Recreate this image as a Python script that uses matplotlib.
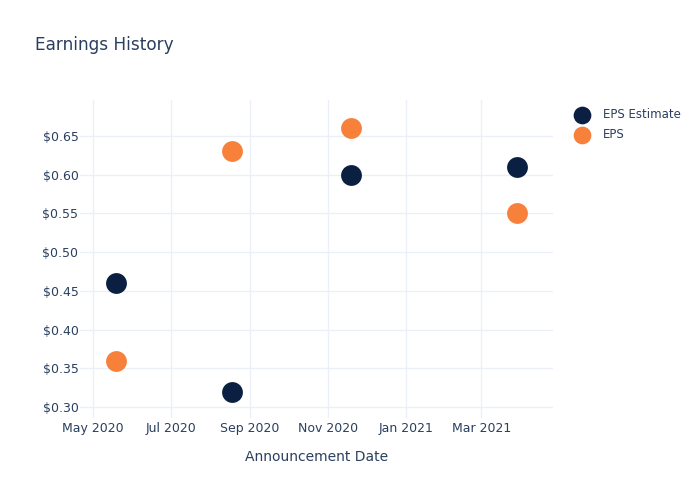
import numpy as np
import pandas as pd
import matplotlib
matplotlib.use("Agg")
import matplotlib.pyplot as plt
import matplotlib.dates as mdates
from matplotlib.ticker import FuncFormatter

dates = pd.to_datetime(["2020-05-19", "2020-08-18", "2020-11-19", "2021-03-29"])
eps_estimate = [0.46, 0.32, 0.60, 0.61]
eps_actual = [0.36, 0.63, 0.66, 0.55]

TEXT = "#2a3f5f"
GRID = "#ebf0f8"
NAVY = "#0b1f42"
ORANGE = "#f7813a"

plt.rcParams["font.family"] = ["DejaVu Sans"]

fig = plt.figure(figsize=(7, 5), dpi=100)
ax = fig.add_axes([0.114, 0.164, 0.676, 0.636])

ax.scatter(dates, eps_estimate, s=225, color=NAVY, label="EPS Estimate", zorder=3, linewidths=0)
ax.scatter(dates, eps_actual, s=225, color=ORANGE, label="EPS", zorder=3, linewidths=0)

ax.set_xlim(pd.Timestamp("2020-04-21"), pd.Timestamp("2021-04-26"))
ax.set_ylim(0.2858, 0.6965)

ax.xaxis.set_major_locator(mdates.MonthLocator(bymonth=[1, 3, 5, 7, 9, 11]))
ax.xaxis.set_major_formatter(mdates.DateFormatter("%b %Y"))
ax.set_yticks(np.arange(0.30, 0.651, 0.05))
ax.yaxis.set_major_formatter(FuncFormatter(lambda v, p: f"${v:.2f}"))

ax.grid(True, color=GRID, linewidth=1)
ax.set_axisbelow(True)
for s in ax.spines.values():
    s.set_visible(False)
ax.tick_params(axis="both", length=0, labelsize=9, colors=TEXT)
ax.tick_params(axis="x", pad=3)
ax.tick_params(axis="y", pad=1)

ax.set_xlabel("Announcement Date", fontsize=10, color=TEXT, labelpad=11)

fig.text(0.05, 0.91, "Earnings History", fontsize=12.2, color=TEXT, va="center")

leg = ax.legend(loc="upper left", bbox_to_anchor=(1.027, 0.99), frameon=False,
                fontsize=8.5, labelcolor=TEXT, handletextpad=0.75, borderaxespad=0,
                markerscale=0.85, labelspacing=0.6)

fig.savefig("out.png", dpi=100, facecolor="white")
